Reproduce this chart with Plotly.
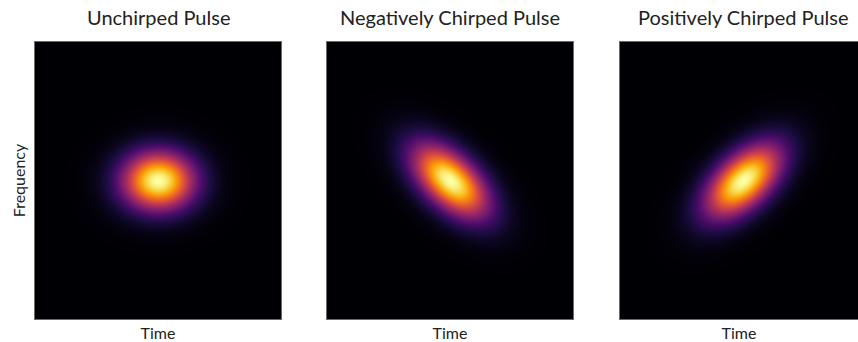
import numpy as np
import plotly.graph_objects as go

# Pulse parameters for each time-frequency panel (arbitrary units)
titles = ["Unchirped Pulse", "Negatively Chirped Pulse", "Positively Chirped Pulse"]
duration = [1.02, 1.06, 1.06]      # temporal width (Gaussian sigma)
bandwidth = [0.73, 0.76, 0.76]     # spectral width about the instantaneous frequency
chirp = [0.0, -0.47, 0.47]         # linear chirp rate (frequency slope vs time)

t = np.linspace(-5, 5, 247)
f = np.linspace(-5, 5, 278)
T, F = np.meshgrid(t, f)

fig = go.Figure()

# panel placement in pixels of the 858 x 342 canvas
W, H = 858.0, 342.0
left_px = [35, 327, 620]
panel_w = 246
top_px, bot_px = 42, 319

for i in range(3):
    q = (T / duration[i]) ** 2 + ((F - chirp[i] * T) / bandwidth[i]) ** 2
    z = np.exp(-q / 2.0)
    xa = "x" if i == 0 else f"x{i+1}"
    ya = "y" if i == 0 else f"y{i+1}"
    fig.add_trace(go.Heatmap(
        x=t, y=f, z=z, colorscale="Inferno", zmin=0, zmax=1,
        zsmooth="best", showscale=False, hoverinfo="skip",
        xaxis=xa, yaxis=ya,
    ))
    x0 = left_px[i] / W
    x1 = min((left_px[i] + panel_w) / W, 1.0)
    visible = (min(left_px[i] + panel_w, W) - left_px[i]) / panel_w
    axkw = dict(showticklabels=False, ticks="", showgrid=False, zeroline=False,
                showline=True, linecolor="#6a6a6a", linewidth=1, mirror=True)
    fig.layout[f"xaxis{'' if i == 0 else i+1}"] = dict(
        domain=[x0, x1], range=[-5, -5 + 10 * visible], anchor=ya,
        title=dict(text="Time", font=dict(size=16, color="#222"), standoff=9), **axkw)
    fig.layout[f"yaxis{'' if i == 0 else i+1}"] = dict(
        domain=[1 - bot_px / H, 1 - top_px / H], range=[-5, 5], anchor=xa,
        **axkw)
    fig.add_annotation(
        text=titles[i], xref="paper", yref="paper",
        x=(left_px[i] + panel_w / 2) / W, y=1 - 31 / H,
        xanchor="center", yanchor="bottom", showarrow=False,
        font=dict(size=20, color="#222"),
    )

fig.layout.yaxis.title = dict(text="Frequency", font=dict(size=16, color="#222"), standoff=4)

fig.update_layout(
    width=858, height=342,
    margin=dict(l=0, r=0, t=0, b=0),
    paper_bgcolor="white", plot_bgcolor="black",
    font=dict(family="Lato, DejaVu Sans, sans-serif"),
)

fig.write_html("out.html")
